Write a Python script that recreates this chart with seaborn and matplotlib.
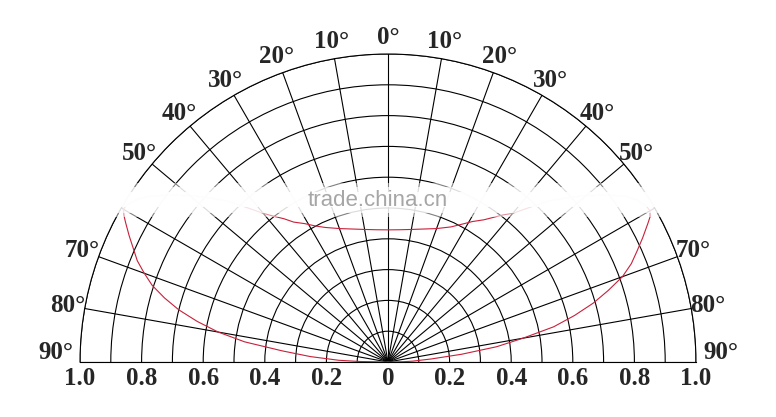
import numpy as np
import matplotlib
matplotlib.use("Agg")
import matplotlib.pyplot as plt
import matplotlib.transforms as mtransforms
from matplotlib.patches import Rectangle
import seaborn as sns

# ================= DADOS =================
# ângulo a partir do eixo vertical (graus) e intensidade relativa de cada lado
angles_deg = [0, 5, 10, 15, 20, 25, 28, 31, 34, 36, 38, 40, 42, 45, 48, 50, 52, 55, 57, 59,
              60, 61, 62, 64, 66, 68, 70, 72, 74, 76, 78, 80, 82, 84, 86, 88, 89, 90]
intensity_left = [0.429, 0.431, 0.437, 0.447, 0.461, 0.482, 0.50, 0.524, 0.548, 0.575, 0.60, 0.63,
                  0.67, 0.74, 0.80, 0.84, 0.88, 0.94, 0.97, 0.99,
                  0.992, 0.98, 0.965, 0.935, 0.905, 0.878, 0.842, 0.805, 0.755, 0.70, 0.633, 0.56,
                  0.47, 0.345, 0.253, 0.16, 0.09, 0.0]
intensity_right = [0.429, 0.431, 0.437, 0.447, 0.461, 0.484, 0.506, 0.532, 0.557, 0.58, 0.606, 0.63,
                   0.67, 0.74, 0.80, 0.84, 0.88, 0.94, 0.965, 0.98,
                   0.982, 0.973, 0.955, 0.92, 0.885, 0.852, 0.81, 0.752, 0.693, 0.624, 0.55, 0.445,
                   0.356, 0.24, 0.14, 0.08, 0.05, 0.0]

angle_ticks = list(range(-90, 91, 10))
angle_labels = ["" if abs(a) == 60 else f"{abs(a)}°" for a in angle_ticks]

radius_grid = [0.1, 0.2, 0.3, 0.4, 0.5, 0.6, 0.7, 0.8, 0.9, 1.0]
base_ticks = [-1.0, -0.8, -0.6, -0.4, -0.2, 0.0, 0.2, 0.4, 0.6, 0.8, 1.0]
base_labels = ["1.0", "0.8", "0.6", "0.4", "0.2", "0", "0.2", "0.4", "0.6", "0.8", "1.0"]

watermark = "trade.china.cn"

# ================= ESTILO =================
sns.set_style("white")
plt.rcParams['font.family'] = ['Liberation Serif', 'DejaVu Serif']

# curva completa (-90 .. 90): lado esquerdo negativo, lado direito positivo
theta_full = np.deg2rad(np.concatenate([-np.array(angles_deg[::-1]), np.array(angles_deg[1:])]))
r_full = np.concatenate([np.array(intensity_left[::-1]), np.array(intensity_right[1:])])

W, H = 776, 417
SIDE = 616            # o semicírculo ocupa a largura de uma caixa quadrada
LEFT, TOP = 80, -100  # canto superior esquerdo da caixa quadrada (px)

fig = plt.figure(figsize=(W / 100, H / 100), dpi=100)
ax = fig.add_axes([LEFT / W, (H - TOP - SIDE) / H, SIDE / W, SIDE / H], projection='polar')
ax.set_theta_zero_location('N')
ax.set_theta_direction(-1)
ax.set_thetamin(-90)
ax.set_thetamax(90)
ax.set_ylim(0, 1)

ax.set_xticks(np.deg2rad(angle_ticks))
ax.set_xticklabels([])
ax.set_yticks(radius_grid)
ax.set_yticklabels([])
ax.tick_params(length=0)
ax.grid(True, color='black', linewidth=0.8)
for sp in ax.spines.values():
    sp.set_color('black')
    sp.set_linewidth(0.8)

sns.lineplot(x=theta_full, y=r_full, ax=ax, sort=False, color='#c8203a', linewidth=0.8)
ax.set_xlabel('')
ax.set_ylabel('')

# rótulos de ângulo fora do semicírculo
for a, lab in zip(angle_ticks, angle_labels):
    if not lab:
        continue
    t = np.deg2rad(np.clip(a, -88.3, 88.3))
    r_lab = 1.08 if abs(a) == 90 else 1.055
    ax.text(t, r_lab, lab, ha='center', va='center', fontsize=18, fontweight='bold')

# rótulos do eixo base (distância radial)
down = ax.transData + mtransforms.ScaledTranslation(0, -5 / 100, fig.dpi_scale_trans)
for v, lab in zip(base_ticks, base_labels):
    t = np.deg2rad(90 if v > 0 else -90)
    ax.text(t, abs(v), lab, ha='center', va='top', fontsize=18, fontweight='bold', transform=down)


def px(x, y):
    """pixel da figura (a partir do topo) -> coordenadas da caixa quadrada"""
    return (x - LEFT) / SIDE, (TOP + SIDE - y) / SIDE


# faixa da marca d'água (apagada)
for (ytop, ybot, alpha) in [(183, 217, 0.5), (187, 213, 0.72), (192, 207, 0.9)]:
    x0, y0 = px(110, ybot)
    x1, y1 = px(662, ytop)
    ax.add_patch(Rectangle((x0, y0), x1 - x0, y1 - y0,
                           transform=ax.transAxes, facecolor='white', edgecolor='none',
                           alpha=alpha, zorder=5, clip_on=False))
wx, wy = px(378, 200)
ax.text(wx, wy, watermark, transform=ax.transAxes, ha='center', va='center',
        fontsize=16, color='#a6a6a6', family=['Liberation Sans', 'DejaVu Sans'], zorder=6)

fig.savefig('out.png', dpi=100, facecolor='white')
